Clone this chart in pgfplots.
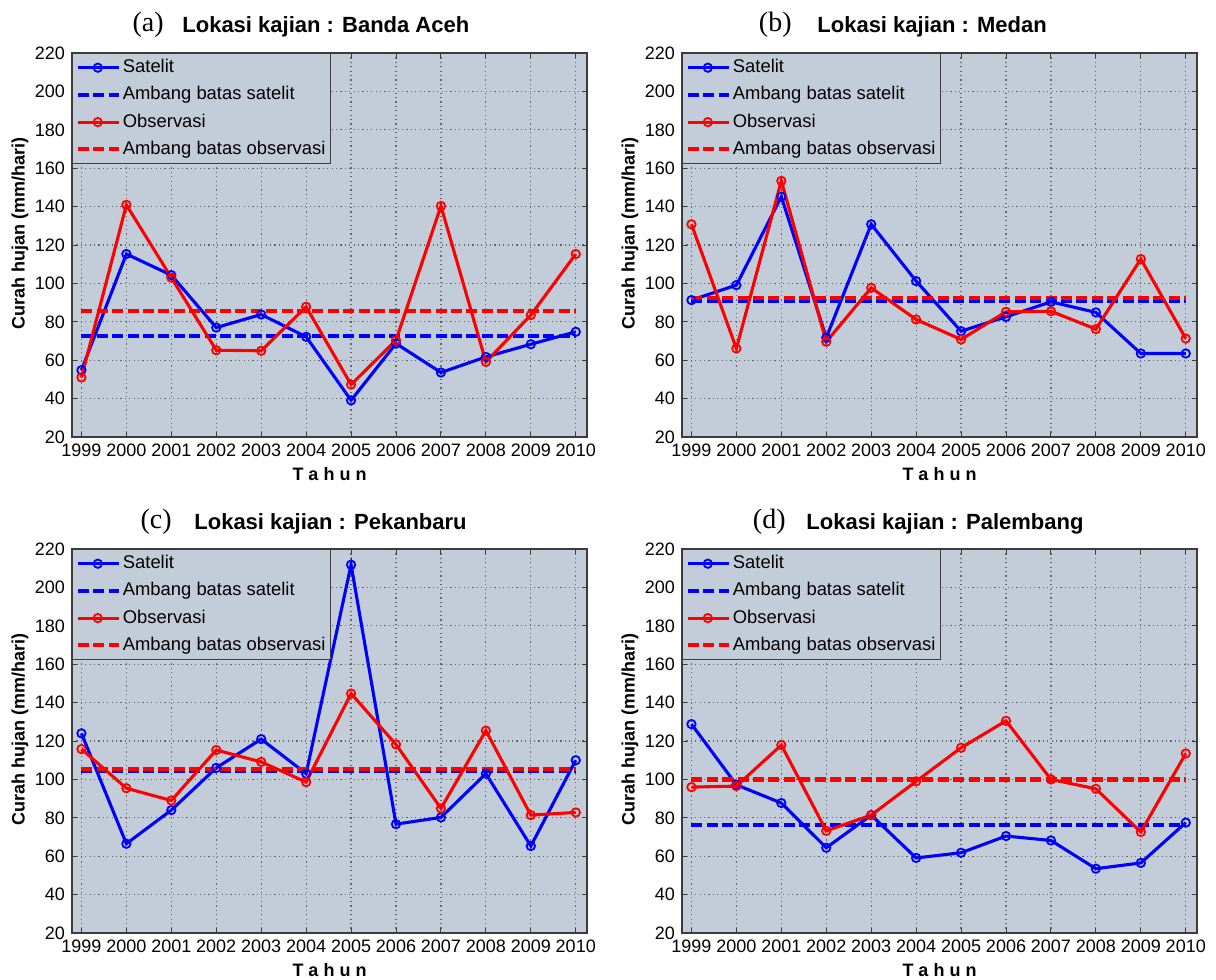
\documentclass[border=0pt]{standalone}
\usepackage{fontspec}
\setmainfont{Liberation Sans}
\newfontfamily\serifpanel{Liberation Serif}
\usepackage{pgfplots}
\usepackage{pgfplotstable}
\pgfplotsset{compat=1.18}

\definecolor{bgc}{RGB}{194,205,217}
\definecolor{frm}{RGB}{60,60,60}
\definecolor{sblue}{RGB}{0,0,255}
\definecolor{ored}{RGB}{255,0,0}

% Banda Aceh
\pgfplotstableread{
year sat obs
1999 54.8 51.0
2000 115.3 140.9
2001 104.3 103.0
2002 77.0 65.2
2003 83.8 64.9
2004 72.2 87.8
2005 39.1 47.3
2006 68.7 70.4
2007 53.6 140.3
2008 61.7 59.1
2009 68.3 83.5
2010 74.8 115.3
}\dataA
% Medan
\pgfplotstableread{
year sat obs
1999 91.3 130.8
2000 99.1 66.1
2001 145.2 153.4
2002 71.7 69.6
2003 130.8 97.7
2004 101.2 81.2
2005 75.1 70.8
2006 82.6 85.2
2007 90.4 85.5
2008 84.9 76.2
2009 63.5 112.7
2010 63.5 71.3
}\dataB
% Pekanbaru
\pgfplotstableread{
year sat obs
1999 124.0 115.8
2000 66.5 95.4
2001 84.0 89.0
2002 106.0 115.3
2003 121.0 109.1
2004 103.0 98.6
2005 211.8 144.7
2006 76.7 118.2
2007 80.2 84.9
2008 103.0 125.4
2009 65.3 81.4
2010 110.0 82.8
}\dataC
% Palembang
\pgfplotstableread{
year sat obs
1999 128.8 96.0
2000 97.2 96.5
2001 87.7 117.9
2002 64.4 73.2
2003 81.4 81.4
2004 59.1 99.0
2005 61.8 116.5
2006 70.5 130.5
2007 68.2 100.0
2008 53.5 95.1
2009 56.5 72.6
2010 77.5 113.5
}\dataD

\pgfplotsset{
  panel/.style={
    scale only axis, width=257.5pt, height=192pt,
    anchor=south west,
    xmin=1998.79, xmax=2010.25, ymin=20, ymax=220,
    xtick={1999,2000,...,2010}, ytick={20,40,...,220},
    /pgf/number format/1000 sep={},
    /pgf/number format/assume math mode=true,
    ticklabel style={font=\fontsize{9}{10}\selectfont},
    grid=major,
    major grid style={dash pattern=on 0.6pt off 1.6pt, draw=black!60, line width=0.6pt},
    axis background/.style={fill=bgc},
    axis line style={draw=frm, line width=0.7pt},
    tick style={draw=frm, line width=0.5pt},
    major tick length=2.5pt, tick align=inside,
    xtick pos=both, ytick pos=both,
    xticklabel pos=bottom, yticklabel pos=left,
    xlabel={\textbf{T a h u n}}, ylabel={\textbf{Curah hujan (mm/hari)}},
    every axis x label/.style={at={(axis description cs:0.5,-0.0964)}, anchor=center, font=\fontsize{9}{10}\selectfont},
    every axis y label/.style={at={(axis description cs:-0.101,0.53)}, rotate=90, anchor=center, font=\fontsize{9}{10}\selectfont},
    legend style={at={(0,1)}, anchor=north west, fill=bgc, draw=frm, line width=0.7pt,
      font=\fontsize{9.2}{10}\selectfont, inner xsep=1.5pt, inner ysep=1.5pt, row sep=2.6pt,
      nodes={inner sep=1pt, text height=7pt, text depth=2pt}},
    legend cell align=left,
    legend image code/.code={\draw[mark repeat=2, mark phase=2, ##1] plot coordinates {(0pt,0pt) (10pt,0pt) (20.5pt,0pt)};},
  },
  satline/.style={sblue, line width=1.55pt, mark=o, mark size=2.1pt, mark options={solid, line width=0.9pt}},
  obsline/.style={ored, line width=1.55pt, mark=o, mark size=2.1pt, mark options={solid, line width=0.9pt}},
  satthr/.style={sblue, line width=2.1pt, dash pattern=on 5.5pt off 2.2pt, no markers},
  obsthr/.style={ored, line width=2.1pt, dash pattern=on 5.5pt off 2.2pt, no markers},
}

\newcommand{\panelplots}[3]{%
  \addplot[satline] table[x=year, y=sat]{#1}; \addlegendentry{Satelit}
  \addplot[satthr] coordinates {(1999,#2) (2010,#2)}; \addlegendentry{Ambang batas satelit}
  \addplot[obsline] table[x=year, y=obs]{#1}; \addlegendentry{Observasi}
  \addplot[obsthr] coordinates {(1999,#3) (2010,#3)}; \addlegendentry{Ambang batas observasi}
}

\begin{document}
\begin{tikzpicture}
\path[use as bounding box] (0pt,0pt) rectangle (608pt,-490pt);

\begin{axis}[panel, at={(36pt,-218.5pt)}]
\panelplots{\dataA}{72.7}{85.7}
\end{axis}
\begin{axis}[panel, at={(341pt,-218.5pt)}]
\panelplots{\dataB}{91.1}{92.5}
\end{axis}
\begin{axis}[panel, at={(36pt,-466.5pt)}]
\panelplots{\dataC}{104.2}{105.6}
\end{axis}
\begin{axis}[panel, at={(341pt,-466.5pt)}]
\panelplots{\dataD}{76.1}{100.0}
\end{axis}

\tikzset{ptag/.style={anchor=mid east, inner sep=0pt, font=\serifpanel\fontsize{14}{15}\selectfont},
         ptit/.style={anchor=mid west, inner sep=0pt, font=\bfseries\fontsize{11}{12}\selectfont}}
\node[ptag] at (82pt,-13pt) {(a)};
\node[ptit] at (91pt,-13.5pt) {Lokasi kajian : Banda Aceh};
\node[ptag] at (396pt,-13pt) {(b)};
\node[ptit] at (408.5pt,-13.5pt) {Lokasi kajian : Medan};
\node[ptag] at (86pt,-261.5pt) {(c)};
\node[ptit] at (97pt,-262pt) {Lokasi kajian : Pekanbaru};
\node[ptag] at (393pt,-261.5pt) {(d)};
\node[ptit] at (403pt,-262pt) {Lokasi kajian : Palembang};
\end{tikzpicture}
\end{document}
